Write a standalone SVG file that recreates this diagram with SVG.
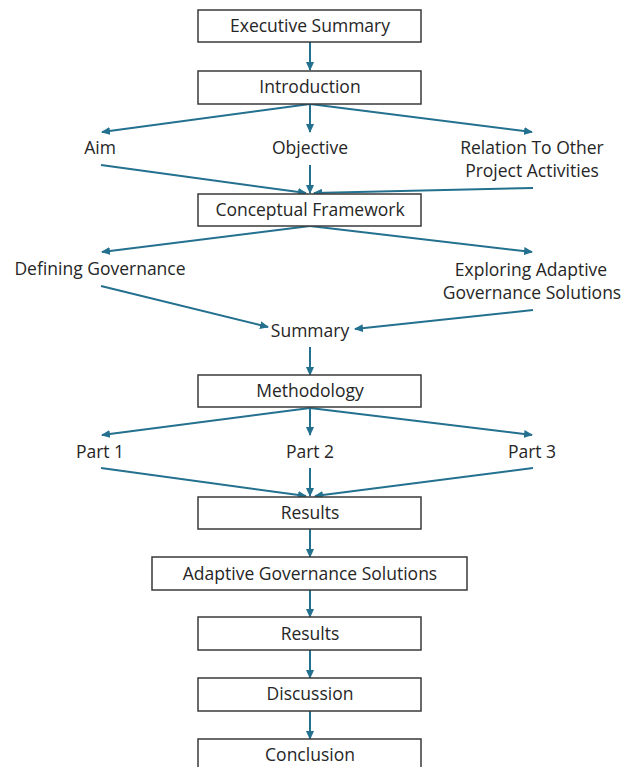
<svg xmlns="http://www.w3.org/2000/svg" width="622" height="767" viewBox="0 0 622 767">
  <style>
    .box { fill: #ffffff; stroke: #3a3a3a; stroke-width: 1.5; }
    .lbl { font-family: "Open Sans", "Liberation Sans", sans-serif; font-size: 17.5px; fill: #262626; text-anchor: middle; }
    .edge { fill: none; stroke: #23708f; stroke-width: 2; marker-end: url(#arrow); }
  </style>
  <defs>
    <marker id="arrow" markerUnits="userSpaceOnUse" markerWidth="9" markerHeight="8" refX="8" refY="4" orient="auto">
      <path d="M0,0 L9,4 L0,8 z" fill="#23708f"/>
    </marker>
  </defs>
  <rect width="622" height="767" fill="#ffffff"/>

  <!-- connectors -->
  <g id="connectors">
    <line class="edge" x1="310" y1="42" x2="310" y2="70"/>
    <line class="edge" x1="310" y1="104" x2="102" y2="132"/>
    <line class="edge" x1="310" y1="104" x2="310" y2="132"/>
    <line class="edge" x1="310" y1="104" x2="532" y2="132"/>
    <line class="edge" x1="101" y1="165" x2="306" y2="193"/>
    <line class="edge" x1="310" y1="165" x2="310" y2="193"/>
    <line class="edge" x1="533" y1="188" x2="314" y2="193"/>
    <line class="edge" x1="310" y1="226" x2="102" y2="252"/>
    <line class="edge" x1="310" y1="226" x2="532" y2="252"/>
    <line class="edge" x1="101" y1="286" x2="268" y2="327"/>
    <line class="edge" x1="533" y1="310" x2="355" y2="329"/>
    <line class="edge" x1="310" y1="347" x2="310" y2="375"/>
    <line class="edge" x1="310" y1="408" x2="102" y2="435"/>
    <line class="edge" x1="310" y1="408" x2="310" y2="435"/>
    <line class="edge" x1="310" y1="408" x2="532" y2="435"/>
    <line class="edge" x1="101" y1="468" x2="306" y2="496"/>
    <line class="edge" x1="310" y1="468" x2="310" y2="496"/>
    <line class="edge" x1="533" y1="468" x2="315" y2="496"/>
    <line class="edge" x1="310" y1="529" x2="310" y2="557"/>
    <line class="edge" x1="310" y1="590" x2="310" y2="617"/>
    <line class="edge" x1="310" y1="650" x2="310" y2="678"/>
    <line class="edge" x1="310" y1="711" x2="310" y2="739"/>
  </g>

  <!-- boxed sections -->
  <g id="executive-summary"><rect class="box" x="198" y="10" width="223" height="32"/><text class="lbl" x="310" y="32">Executive Summary</text></g>
  <g id="introduction"><rect class="box" x="198" y="71" width="223" height="33"/><text class="lbl" x="310" y="93">Introduction</text></g>
  <g id="conceptual-framework"><rect class="box" x="198" y="194" width="223" height="32"/><text class="lbl" x="310" y="216">Conceptual Framework</text></g>
  <g id="methodology"><rect class="box" x="198" y="375" width="223" height="32"/><text class="lbl" x="310" y="397">Methodology</text></g>
  <g id="results-1"><rect class="box" x="198" y="497" width="223" height="32"/><text class="lbl" x="310" y="519">Results</text></g>
  <g id="adaptive-governance-solutions"><rect class="box" x="152" y="557" width="315" height="33"/><text class="lbl" x="310" y="580">Adaptive Governance Solutions</text></g>
  <g id="results-2"><rect class="box" x="198" y="617" width="223" height="33"/><text class="lbl" x="310" y="640">Results</text></g>
  <g id="discussion"><rect class="box" x="198" y="678" width="223" height="33"/><text class="lbl" x="310" y="700">Discussion</text></g>
  <g id="conclusion"><rect class="box" x="198" y="739" width="223" height="33"/><text class="lbl" x="310" y="761">Conclusion</text></g>

  <!-- free-standing subsections -->
  <g id="aim"><text class="lbl" x="100" y="154">Aim</text></g>
  <g id="objective"><text class="lbl" x="310" y="154">Objective</text></g>
  <g id="relation"><text class="lbl" x="532" y="154">Relation To Other</text><text class="lbl" x="532" y="177">Project Activities</text></g>
  <g id="defining-governance"><text class="lbl" x="100" y="275">Defining Governance</text></g>
  <g id="exploring"><text class="lbl" x="531" y="276">Exploring Adaptive</text><text class="lbl" x="532" y="299">Governance Solutions</text></g>
  <g id="summary"><text class="lbl" x="310" y="337">Summary</text></g>
  <g id="part-1"><text class="lbl" x="100" y="458">Part 1</text></g>
  <g id="part-2"><text class="lbl" x="310" y="458">Part 2</text></g>
  <g id="part-3"><text class="lbl" x="532" y="458">Part 3</text></g>
</svg>
